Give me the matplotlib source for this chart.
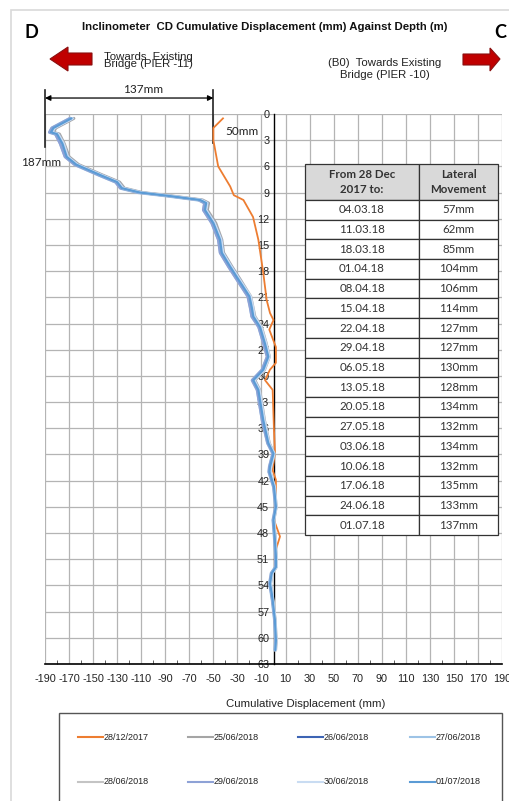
import numpy as np
import matplotlib
matplotlib.use('Agg')
from matplotlib import pyplot as plt
from matplotlib.patches import Rectangle, Polygon
from matplotlib.lines import Line2D

plt.rcParams['font.family'] = ['Liberation Sans', 'DejaVu Sans']
plt.rcParams['axes.unicode_minus'] = False

# ---- data ----
orange_depth = [0.5, 1.6, 3.0, 6.0, 8.3, 9.3, 9.85, 11.8, 14.4, 18.2, 21.3, 22.8, 23.6, 24.7,
                26.7, 28.5, 29.3, 30.5, 31.6, 36.2, 38.8, 40.8, 41.9, 45.0, 46.5, 48.4, 49.9]
orange_disp = [-42, -50, -50, -46, -36, -33, -25, -17, -12.6, -8.5, -5.7, -2.9, 0, -3.5,
               2, 2, -3, -7, -0.7, 0.4, 1.2, -0.7, 2, 2, 0.4, 5.4, 2]

blue_depth = [0.5, 1.6, 2.1, 2.3, 3.4, 4.9, 5.8, 7.0, 7.8, 8.5, 9.0, 9.35, 9.85, 10.2, 11.0,
              12.5, 14.4, 15.9, 17.5, 19.0, 20.9, 22.2, 23.2, 24.4, 26.3, 27.8, 29.3, 30.5,
              31.6, 35.1, 37.7, 38.9, 40.4, 41.0, 42.7, 45.0, 46.5, 48.8, 50.7, 51.9, 52.6,
              53.8, 54.9, 55.7, 58.0, 60.3, 61.4]

d_2506 = [-166, -181, -183, -178, -174, -170, -162, -142, -128, -124, -109, -87, -59, -54, -55,
          -48, -43, -41.5, -34.5, -27.5, -19, -17, -15.5, -10, -6, -3.5, -7.5, -15.5, -11.5,
          -7.5, -3.5, 0.5, -2.2, -2.8, 0.8, 2.2, 0.3, 1.5, 2.2, 2.2, -1.2, -2.5, -1.2, -0.5,
          1.4, 2.2, 1.7]
d_2606 = [-167, -182, -184, -179, -175, -171, -163, -143, -129, -125, -110, -88, -60, -55, -56,
          -49, -43.5, -42, -35, -28, -19.5, -17.5, -16, -10.5, -6.5, -4, -8, -16, -12, -8, -4,
          0.3, -2.5, -3, 0.6, 2.1, 0.2, 1.4, 2.1, 2.1, -1.3, -2.7, -1.3, -0.6, 1.3, 2.1, 1.6]
d_2706 = [-169, -184, -186, -181, -177, -173, -165, -145, -131, -127, -112, -90, -62, -57, -58,
          -51, -45.5, -44, -37, -30, -21, -19, -17.8, -12, -8, -5, -9.3, -17.5, -13.4, -9.2,
          -4.8, -0.4, -3.3, -3.7, 0.1, 1.8, -0.3, 1, 1.8, 1.8, -1.8, -3.2, -1.8, -0.9, 1, 1.8,
          1.3]
d_2806 = [-167.5, -182.5, -184.5, -179.5, -175, -171.5, -163.5, -143.5, -129.5, -125.5, -110.5,
          -88.5, -60.5, -55.5, -56.5, -49.5, -44, -42.5, -35.5, -28.5, -19.8, -17.8, -16.4,
          -10.8, -6.8, -4.1, -8.2, -16.4, -12.3, -8.3, -4.1, 0.2, -2.7, -3.1, 0.5, 2.1, 0.1,
          1.3, 2.1, 2.1, -1.4, -2.8, -1.4, -0.6, 1.3, 2.1, 1.6]
d_2906 = [-169.5, -184.5, -186.5, -181.5, -177.5, -173.5, -165.5, -145.5, -131.5, -127.5,
          -112.5, -90.5, -62.5, -57.5, -58.5, -51.5, -46, -44.5, -37.5, -30.5, -21.5, -19.5,
          -18.2, -12.5, -8.4, -5.4, -9.6, -17.9, -13.7, -9.5, -5, -0.6, -3.5, -3.9, 0, 1.7,
          -0.4, 0.9, 1.7, 1.7, -1.9, -3.3, -1.9, -1, 0.9, 1.7, 1.2]
d_3006 = [-167, -182, -184, -179, -174.5, -171, -163, -143, -129, -125, -110, -88, -60, -55,
          -56, -49, -43.5, -42, -35, -28, -19, -17, -15.8, -10.2, -6.1, -3.4, -7.6, -15.9,
          -11.7, -7.6, -3.6, 0.6, -2.1, -2.6, 0.9, 2.4, 0.4, 1.6, 2.4, 2.4, -1.1, -2.4, -1.1,
          -0.4, 1.5, 2.3, 1.8]
d_0107 = [-168, -183, -185, -180, -175.5, -172, -164, -144, -130, -126, -111, -89, -61, -56,
          -57, -50, -44.5, -43, -36, -29, -20, -18, -16.8, -11.2, -7.1, -4.3, -8.5, -16.8,
          -12.6, -8.5, -4.3, 0, -2.9, -3.3, 0.4, 2, 0, 1.2, 2, 2, -1.5, -2.9, -1.5, -0.7, 1.2,
          2, 1.5]

series_labels = ['28/12/2017', '25/06/2018', '26/06/2018', '27/06/2018',
                 '28/06/2018', '29/06/2018', '30/06/2018', '01/07/2018']
series_colors = ['#ed7d31', '#a5a5a5', '#3d64b4', '#9dc3e6',
                 '#c4c4c4', '#8ea2d6', '#c9dcf2', '#5b9bd5']

table_dates = ['04.03.18', '11.03.18', '18.03.18', '01.04.18', '08.04.18', '15.04.18',
               '22.04.18', '29.04.18', '06.05.18', '13.05.18', '20.05.18', '27.05.18',
               '03.06.18', '10.06.18', '17.06.18', '24.06.18', '01.07.18']
table_move = [57, 62, 85, 104, 106, 114, 127, 127, 130, 128, 134, 132, 134, 132, 135, 133, 137]

W, H = 509, 801
fig = plt.figure(figsize=(W / 100, H / 100), dpi=100)

def fx(px):
    return px / W

def fy(py):
    return 1 - py / H

# chart area border
fig.add_artist(Rectangle((fx(11), fy(830)), fx(560), (830 - 10) / H, transform=fig.transFigure,
                         fill=False, edgecolor='#d9d9d9', linewidth=1.2))

ax = fig.add_axes([fx(45), fy(664), fx(502) - fx(45), fy(114) - fy(664)])

ax.plot(orange_disp, orange_depth, color=series_colors[0], linewidth=1.3, zorder=3)
blue_sets = [d_2506, d_2606, d_2706, d_2806, d_2906, d_3006, d_0107]
blue_widths = [2.2, 1.8, 2.4, 2.0, 1.8, 2.0, 1.6]
for vals, col, lw in zip(blue_sets, series_colors[1:], blue_widths):
    ax.plot(vals, blue_depth, color=col, linewidth=lw, zorder=3, solid_capstyle='round')

ax.set_xlim(-190, 190)
ax.set_ylim(63, 0)
ax.set_xticks(np.arange(-190, 191, 20))
ax.set_xticks(np.arange(-180, 190, 20), minor=True)
ax.set_yticks(np.arange(0, 64, 3))
ax.grid(True, which='major', color='#b4b4b4', linewidth=0.9)
ax.spines['left'].set_position(('data', 0))
ax.spines['left'].set_linewidth(1.0)
ax.spines['bottom'].set_linewidth(1.2)
ax.spines['top'].set_visible(False)
ax.spines['right'].set_visible(False)
ax.tick_params(axis='x', which='major', length=0, labelsize=7.8, pad=7, colors='#222222')
ax.tick_params(axis='x', which='minor', length=3, direction='in', color='#444444')
ax.tick_params(axis='y', which='major', length=0, labelsize=7.8, pad=3, colors='#222222')
ax.set_xlabel('Cumulative Displacement (mm)', fontsize=8.2, color='#222222')
ax.xaxis.set_label_coords(0.571, -0.064)

# dimension annotation
ax.annotate('', xy=(-190, -1.83), xytext=(-50, -1.83),
            arrowprops=dict(arrowstyle='<|-|>', color='black', lw=0.9, shrinkA=0, shrinkB=0,
                            mutation_scale=8), annotation_clip=False)
ax.plot([-190, -190], [-2.75, 3.8], color='#222222', linewidth=1.2, clip_on=False)
ax.plot([-50, -50], [-2.75, 3.3], color='#222222', linewidth=1.2, clip_on=False)
ax.text(-108.5, -2.75, '137mm', fontsize=8.5, family=['Lato', 'DejaVu Sans'],
        ha='center', va='center', color='#222222', clip_on=False)
ax.text(-26, 1.95, '50mm', fontsize=8.5, family=['Lato', 'DejaVu Sans'],
        ha='center', va='center', color='#222222')
ax.text(-193, 5.5, '187mm', fontsize=8.5, family=['Lato', 'DejaVu Sans'],
        ha='center', va='center', color='#222222', clip_on=False)

# title and direction labels
fig.text(fx(265), fy(27), 'Inclinometer  CD Cumulative Displacement (mm) Against Depth (m)',
         fontsize=8.2, fontweight='bold', ha='center', va='center', color='#111111')
fig.text(fx(31), fy(33), 'D', fontsize=13, fontweight='bold', family=['Lato', 'DejaVu Sans'],
         ha='center', va='center')
fig.text(fx(494), fy(33), 'C', fontsize=13, fontweight='bold', family=['Lato', 'DejaVu Sans'],
         ha='left', va='center')
fig.text(fx(148), fy(57), 'Towards  Existing', fontsize=8.2, ha='center', va='center',
         color='#222222')
fig.text(fx(148), fy(64), 'Bridge (PIER -11)', fontsize=8.2, ha='center', va='center',
         color='#222222')
fig.text(fx(385), fy(63), '(B0)  Towards Existing', fontsize=8.2, ha='center', va='center',
         color='#222222')
fig.text(fx(385), fy(75), 'Bridge (PIER -10)', fontsize=8.2, ha='center', va='center',
         color='#222222')

left_arrow = [(50, 59), (68, 47), (68, 53), (92, 53), (92, 65), (68, 65), (68, 71)]
right_arrow = [(500, 59), (490, 48), (490, 54), (463, 54), (463, 65), (490, 65), (490, 71)]
for pts in (left_arrow, right_arrow):
    fig.add_artist(Polygon([(fx(x), fy(y)) for x, y in pts], closed=True,
                           transform=fig.transFigure, facecolor='#c00000',
                           edgecolor='#8a1010', linewidth=0.8))

# table
tax = fig.add_axes([fx(305), fy(535), fx(498) - fx(305), fy(164) - fy(535)])
tax.axis('off')
cell_text = [['From 28 Dec\n2017 to:', 'Lateral\nMovement']]
cell_text += [[d, '%dmm' % m] for d, m in zip(table_dates, table_move)]
tbl = tax.table(cellText=cell_text, cellLoc='center', bbox=[0, 0, 1, 1],
                colWidths=[114, 79])
tbl.auto_set_font_size(False)
for (r, c), cell in tbl.get_celld().items():
    cell.set_edgecolor('#333333')
    cell.set_linewidth(0.9)
    cell.set_height(1.0 if r > 0 else 1.82)
    txt = cell.get_text()
    txt.set_fontfamily(['Lato', 'DejaVu Sans'])
    txt.set_fontsize(8.3)
    txt.set_color('#333333')
    if r == 0:
        cell.set_facecolor('#d9d9d9')
        txt.set_fontweight('bold')
        txt.set_linespacing(1.35)

# legend (drawn manually to match layout)
fig.add_artist(Rectangle((fx(59), fy(830)), fx(502) - fx(59), (830 - 713) / H,
                         transform=fig.transFigure, fill=False, edgecolor='#555555',
                         linewidth=1.0))
col_x = [78, 188, 298, 410]
row_y = [737, 782]
for i, (lab, col) in enumerate(zip(series_labels, series_colors)):
    x0 = col_x[i % 4]
    y0 = row_y[i // 4]
    fig.add_artist(Line2D([fx(x0), fx(x0 + 25)], [fy(y0), fy(y0)], color=col,
                          linewidth=1.5, transform=fig.transFigure))
    fig.text(fx(x0 + 26), fy(y0), lab, fontsize=6.5, ha='left', va='center', color='#222222')

fig.savefig('out.png', dpi=100)
